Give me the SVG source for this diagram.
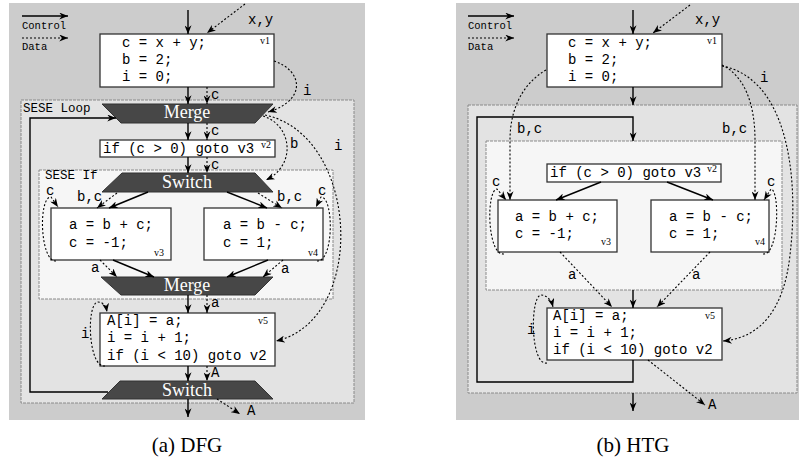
<svg xmlns="http://www.w3.org/2000/svg" width="799" height="459" viewBox="0 0 799 459">
<defs>
<marker id="ah" viewBox="0 0 10 8" refX="10" refY="4" markerWidth="9" markerHeight="7" markerUnits="userSpaceOnUse" orient="auto">
<path d="M0,0 L10,4 L0,8 L3,4 z" fill="#000"/>
</marker>
<style>
.bg{fill:#cccccc}
.reg{fill:#e3e3e3;stroke:#8a8a8a;stroke-width:1;stroke-dasharray:3,1}
.reg2{fill:#f6f6f6;stroke:#8a8a8a;stroke-width:1;stroke-dasharray:3,1}
.box{fill:#fff;stroke:#333;stroke-width:1.3}
.trap{fill:#474747;stroke:#333;stroke-width:1}
.ttl{font-family:"Liberation Serif",serif;font-size:18px;fill:#fff;text-anchor:middle}
.code{font-family:"Liberation Mono",monospace;font-size:14px;fill:#000}
.lbl{font-family:"Liberation Mono",monospace;font-size:14px;fill:#000}
.small{font-family:"Liberation Mono",monospace;font-size:10.5px;fill:#000}
.reglbl{font-family:"Liberation Mono",monospace;font-size:12.5px;fill:#000}
.vid{font-family:"Liberation Serif",serif;font-size:10px;fill:#000}
.cap{font-family:"Liberation Serif",serif;font-size:21px;fill:#000;text-anchor:middle}
.ctl{fill:none;stroke:#000;stroke-width:1.4}
.dat{fill:none;stroke:#000;stroke-width:1.1;stroke-dasharray:2,2}
</style>
</defs>

<!-- Panel backgrounds and regions -->
<g id="panel-a">
<rect class="bg" x="9" y="3" width="356" height="417"/>
<rect class="reg" x="21" y="100" width="333" height="303"/>
<text class="reglbl" x="23" y="112">SESE Loop</text>
<rect class="reg2" x="39" y="170" width="294" height="129"/>
<text class="reglbl" x="45" y="179">SESE If</text>
</g>
<g id="panel-b">
<rect class="bg" x="456" y="3" width="343" height="417"/>
<rect class="reg" x="468" y="105" width="329" height="288"/>
<rect class="reg2" x="486" y="141" width="296" height="149"/>
</g>

<!-- Legends -->
<g id="legend-a">
<line class="ctl" x1="22" y1="16" x2="68" y2="16" marker-end="url(#ah)"/>
<text class="small" x="22" y="29">Control</text>
<line class="dat" x1="22" y1="38" x2="68" y2="38" marker-end="url(#ah)"/>
<text class="small" x="22" y="50">Data</text>
</g>
<g id="legend-b">
<line class="ctl" x1="468" y1="16" x2="514" y2="16" marker-end="url(#ah)"/>
<text class="small" x="468" y="29">Control</text>
<line class="dat" x1="468" y1="38" x2="514" y2="38" marker-end="url(#ah)"/>
<text class="small" x="468" y="50">Data</text>
</g>

<!-- DFG nodes -->
<g id="a-v1">
<rect class="box" x="100" y="34" width="174" height="53"/>
<text class="code" x="122" y="47">c = x + y;</text>
<text class="code" x="122" y="64">b = 2;</text>
<text class="code" x="122" y="81">i = 0;</text>
<text class="vid" x="260" y="44">v1</text>
</g>
<g id="a-merge1">
<polygon class="trap" points="102,104 273,104 255,123 121,123"/>
<text class="ttl" x="187" y="118">Merge</text>
</g>
<g id="a-v2">
<rect class="box" x="100" y="140" width="175" height="17"/>
<text class="code" x="103" y="153">if (c &gt; 0) goto v3</text>
<text class="vid" x="261" y="148">v2</text>
</g>
<g id="a-switch1">
<polygon class="trap" points="122,173 255,173 273,192 102,192"/>
<text class="ttl" x="187" y="188">Switch</text>
</g>
<g id="a-v3">
<rect class="box" x="51" y="208" width="120" height="52"/>
<text class="code" x="69" y="229">a = b + c;</text>
<text class="code" x="69" y="247">c = -1;</text>
<text class="vid" x="154" y="256">v3</text>
</g>
<g id="a-v4">
<rect class="box" x="204" y="208" width="119" height="52"/>
<text class="code" x="223" y="229">a = b - c;</text>
<text class="code" x="223" y="247">c = 1;</text>
<text class="vid" x="308" y="256">v4</text>
</g>
<g id="a-merge2">
<polygon class="trap" points="101,277 273,277 255,295 121,295"/>
<text class="ttl" x="187" y="291">Merge</text>
</g>
<g id="a-v5">
<rect class="box" x="100" y="313" width="175" height="53"/>
<text class="code" x="107" y="325">A[i] = a;</text>
<text class="code" x="107" y="342">i = i + 1;</text>
<text class="code" x="107" y="360">if (i &lt; 10) goto v2</text>
<text class="vid" x="258" y="324">v5</text>
</g>
<g id="a-switch2">
<polygon class="trap" points="120,381 255,381 273,399 102,399"/>
<text class="ttl" x="187" y="396">Switch</text>
</g>
<text class="cap" x="187" y="452">(a) DFG</text>

<!-- HTG nodes -->
<g id="b-v1">
<rect class="box" x="547" y="34" width="175" height="53"/>
<text class="code" x="568" y="47">c = x + y;</text>
<text class="code" x="568" y="64">b = 2;</text>
<text class="code" x="568" y="81">i = 0;</text>
<text class="vid" x="707" y="44">v1</text>
</g>
<g id="b-v2">
<rect class="box" x="547" y="164" width="174" height="18"/>
<text class="code" x="550" y="177">if (c &gt; 0) goto v3</text>
<text class="vid" x="707" y="172">v2</text>
</g>
<g id="b-v3">
<rect class="box" x="498" y="200" width="119" height="52"/>
<text class="code" x="515" y="221">a = b + c;</text>
<text class="code" x="515" y="238">c = -1;</text>
<text class="vid" x="601" y="245">v3</text>
</g>
<g id="b-v4">
<rect class="box" x="651" y="200" width="118" height="52"/>
<text class="code" x="669" y="221">a = b - c;</text>
<text class="code" x="669" y="238">c = 1;</text>
<text class="vid" x="755" y="245">v4</text>
</g>
<g id="b-v5">
<rect class="box" x="547" y="308" width="175" height="52"/>
<text class="code" x="553" y="320">A[i] = a;</text>
<text class="code" x="553" y="337">i = i + 1;</text>
<text class="code" x="553" y="354">if (i &lt; 10) goto v2</text>
<text class="vid" x="705" y="319">v5</text>
</g>
<text class="cap" x="633" y="452">(b) HTG</text>

<!-- Connectors -->
<g id="connectors">
<!-- DFG control -->
<line class="ctl" x1="188" y1="10" x2="188" y2="34" marker-end="url(#ah)"/>
<line class="ctl" x1="188" y1="87" x2="188" y2="104" marker-end="url(#ah)"/>
<line class="ctl" x1="188" y1="123" x2="188" y2="140" marker-end="url(#ah)"/>
<line class="ctl" x1="188" y1="157" x2="188" y2="173" marker-end="url(#ah)"/>
<line class="ctl" x1="148" y1="192" x2="109" y2="208" marker-end="url(#ah)"/>
<line class="ctl" x1="227" y1="192" x2="267" y2="208" marker-end="url(#ah)"/>
<line class="ctl" x1="113" y1="260" x2="154" y2="277" marker-end="url(#ah)"/>
<line class="ctl" x1="268" y1="260" x2="227" y2="277" marker-end="url(#ah)"/>
<line class="ctl" x1="188" y1="295" x2="188" y2="313" marker-end="url(#ah)"/>
<line class="ctl" x1="188" y1="366" x2="188" y2="381" marker-end="url(#ah)"/>
<line class="ctl" x1="188" y1="399" x2="188" y2="417" marker-end="url(#ah)"/>
<path class="ctl" d="M108,392 L30,392 L30,118 L116,118" marker-end="url(#ah)"/>
<!-- DFG data -->
<line class="dat" x1="245" y1="4" x2="207" y2="33" marker-end="url(#ah)"/>
<line class="dat" x1="207" y1="87" x2="207" y2="104" marker-end="url(#ah)"/>
<path class="dat" d="M274,61 C302,70 308,100 268,112" marker-end="url(#ah)"/>
<line class="dat" x1="207" y1="123" x2="207" y2="140" marker-end="url(#ah)"/>
<path class="dat" d="M263,116 C292,125 297,165 266,180" marker-end="url(#ah)"/>
<path class="dat" d="M265,115 C360,135 368,320 276,341" marker-end="url(#ah)"/>
<line class="dat" x1="207" y1="157" x2="207" y2="173" marker-end="url(#ah)"/>
<line class="dat" x1="117" y1="193" x2="97" y2="208" marker-end="url(#ah)"/>
<line class="dat" x1="258" y1="193" x2="282" y2="208" marker-end="url(#ah)"/>
<path class="dat" d="M56,261 C40,262 38,197 51,197 L58,207" marker-end="url(#ah)"/>
<path class="dat" d="M317,261 C334,262 334,197 321,197 L316,207" marker-end="url(#ah)"/>
<line class="dat" x1="100" y1="260" x2="117" y2="277" marker-end="url(#ah)"/>
<line class="dat" x1="283" y1="260" x2="263" y2="277" marker-end="url(#ah)"/>
<line class="dat" x1="207" y1="295" x2="207" y2="313" marker-end="url(#ah)"/>
<path class="dat" d="M105,366 C88,368 86,303 98,302 C103,302 106,306 107,312" marker-end="url(#ah)"/>
<line class="dat" x1="207" y1="366" x2="207" y2="381" marker-end="url(#ah)"/>
<line class="dat" x1="217" y1="399" x2="240" y2="414" marker-end="url(#ah)"/>
<!-- DFG labels -->
<text class="lbl" x="248" y="24">x,y</text>
<text class="lbl" x="211" y="99">c</text>
<text class="lbl" x="303" y="95">i</text>
<text class="lbl" x="211" y="135">c</text>
<text class="lbl" x="290" y="148">b</text>
<text class="lbl" x="334" y="150">i</text>
<text class="lbl" x="211" y="169">c</text>
<text class="lbl" x="77" y="201">b,c</text>
<text class="lbl" x="277" y="201">b,c</text>
<text class="lbl" x="46" y="195">c</text>
<text class="lbl" x="318" y="195">c</text>
<text class="lbl" x="91" y="272">a</text>
<text class="lbl" x="281" y="273">a</text>
<text class="lbl" x="211" y="307">a</text>
<text class="lbl" x="81" y="338">i</text>
<text class="lbl" x="211" y="377">A</text>
<text class="lbl" x="247" y="415">A</text>

<!-- HTG control -->
<line class="ctl" x1="633" y1="10" x2="633" y2="34" marker-end="url(#ah)"/>
<line class="ctl" x1="633" y1="87" x2="633" y2="105" marker-end="url(#ah)"/>
<path class="ctl" d="M633,360 L633,382 L477,382 L477,117 L633,117 L633,141" marker-end="url(#ah)"/>
<line class="ctl" x1="601" y1="182" x2="556" y2="200" marker-end="url(#ah)"/>
<line class="ctl" x1="667" y1="182" x2="713" y2="200" marker-end="url(#ah)"/>
<line class="ctl" x1="633" y1="290" x2="633" y2="308" marker-end="url(#ah)"/>
<line class="ctl" x1="633" y1="393" x2="633" y2="411" marker-end="url(#ah)"/>
<!-- HTG data -->
<line class="dat" x1="690" y1="5" x2="653" y2="33" marker-end="url(#ah)"/>
<path class="dat" d="M546,70 C522,84 510,110 510,140 L510,200" marker-end="url(#ah)"/>
<path class="dat" d="M722,65 C745,76 755,105 755,140 L755,200" marker-end="url(#ah)"/>
<path class="dat" d="M722,66 C785,78 800,170 790,255 C784,310 760,338 723,341" marker-end="url(#ah)"/>
<path class="dat" d="M504,254 C487,256 486,190 497,189 L506,200" marker-end="url(#ah)"/>
<path class="dat" d="M763,254 C779,256 780,190 771,189 L764,200" marker-end="url(#ah)"/>
<line class="dat" x1="560" y1="252" x2="612" y2="307" marker-end="url(#ah)"/>
<line class="dat" x1="710" y1="252" x2="657" y2="307" marker-end="url(#ah)"/>
<path class="dat" d="M547,363 C530,366 530,296 541,295 C546,295 551,299 553,307" marker-end="url(#ah)"/>
<line class="dat" x1="648" y1="360" x2="705" y2="405" marker-end="url(#ah)"/>
<!-- HTG labels -->
<text class="lbl" x="695" y="24">x,y</text>
<text class="lbl" x="760" y="82">i</text>
<text class="lbl" x="517" y="133">b,c</text>
<text class="lbl" x="722" y="133">b,c</text>
<text class="lbl" x="492" y="186">c</text>
<text class="lbl" x="767" y="186">c</text>
<text class="lbl" x="568" y="279">a</text>
<text class="lbl" x="692" y="279">a</text>
<text class="lbl" x="527" y="334">i</text>
<text class="lbl" x="708" y="409">A</text>
</g>
</svg>
